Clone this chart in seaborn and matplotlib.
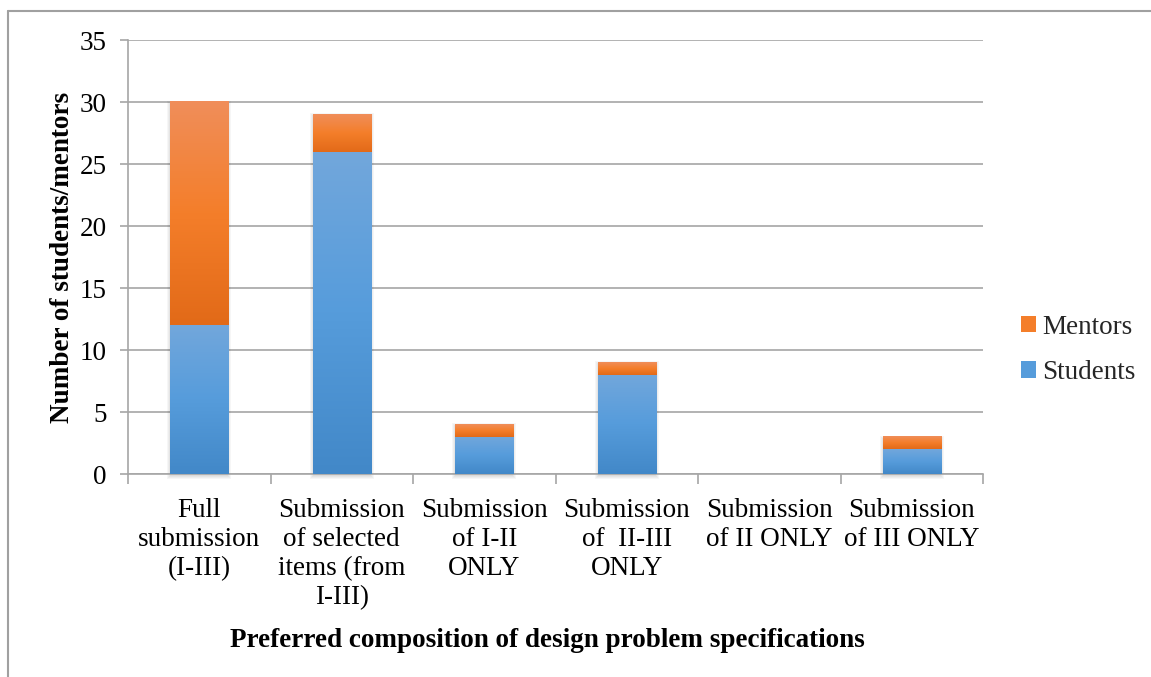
import numpy as np
import pandas as pd
import matplotlib
matplotlib.use("Agg")
import matplotlib.pyplot as plt
import seaborn as sns
from matplotlib.colors import LinearSegmentedColormap
from matplotlib.patches import Rectangle, Patch
from matplotlib.lines import Line2D
from matplotlib.transforms import IdentityTransform

# ---- data ----
categories = [
    "Full\nsubmission\n(I-III)",
    "Submission\nof selected\nitems (from\nI-III)",
    "Submission\nof I-II\nONLY",
    "Submission\nof  II-III\nONLY",
    "Submission\nof II ONLY",
    "Submission\nof III ONLY",
]
students = [12, 26, 3, 8, 0, 2]
mentors = [18, 3, 1, 1, 0, 1]
y_ticks = [0, 5, 10, 15, 20, 25, 30, 35]
series_names = ["Students", "Mentors"]
x_title = "Preferred composition of design problem specifications"
y_title = "Number of students/mentors"

# ---- style ----
BLUE = ["#72a7dc", "#569cdb", "#4288c8"]
ORANGE = ["#f08e5a", "#f47e2a", "#e26a18"]
GRID = "#a6a6a6"
FS = 19.5

sns.set_theme(style="white")
plt.rcParams["font.family"] = ["Liberation Serif", "DejaVu Serif"]

W, H = 1151, 677
fig = plt.figure(figsize=(W / 100, H / 100), dpi=100)
ax = fig.add_axes([128 / W, 1 - 474 / H, 855 / W, 434 / H])

df = pd.DataFrame({"category": categories, "Students": students, "Mentors": mentors})

sns.barplot(data=df, x="category", y="Students", order=categories, color=BLUE[1],
            saturation=1, width=0.41, errorbar=None, ax=ax, zorder=3, linewidth=0)
n_students = len(ax.patches)
sns.barplot(data=df, x="category", y="Mentors", order=categories, color=ORANGE[1],
            saturation=1, width=0.41, errorbar=None, ax=ax, zorder=3, linewidth=0,
            bottom=np.asarray(students, dtype=float))

ax.set_xlim(-0.5, len(categories) - 0.5)
ax.set_ylim(0, 35)
fig.canvas.draw()

# vertical gradient fill for every bar segment
grad = np.linspace(0, 1, 256).reshape(-1, 1)
cmaps = [LinearSegmentedColormap.from_list("blue_grad", BLUE),
         LinearSegmentedColormap.from_list("orange_grad", ORANGE)]
bars = list(ax.patches)
for idx, p in enumerate(bars):
    h = p.get_height()
    if h <= 0:
        continue
    x0, y0, w = p.get_x(), p.get_y(), p.get_width()
    cm = cmaps[0] if idx < n_students else cmaps[1]
    ax.imshow(grad, cmap=cm, extent=[x0, x0 + w, y0, y0 + h], origin="upper",
              aspect="auto", zorder=3.2, interpolation="bilinear")

# soft drop shadow behind each stacked column
for i in range(n_students):
    sp, mp = bars[i], bars[i + n_students]
    top = mp.get_y() + mp.get_height()
    if top <= 0:
        continue
    (dx0, dy0), (dx1, dy1) = ax.transData.transform(
        [(sp.get_x(), 0), (sp.get_x() + sp.get_width(), top)])
    for k in range(1, 5):
        ax.add_patch(Rectangle((dx0 - k + 1, dy0 - k - 1), dx1 - dx0 + 2 * k - 2,
                               dy1 - dy0 + 2 * k - 2,
                               transform=IdentityTransform(), facecolor="black",
                               edgecolor="none", alpha=0.035, zorder=2.5, clip_on=False))

ax.set_xlim(-0.5, len(categories) - 0.5)
ax.set_ylim(0, 35)

# axes, grid and ticks
ax.set_yticks(y_ticks)
ax.yaxis.grid(True, color=GRID, linewidth=1.2, zorder=0)
ax.set_axisbelow(True)
for side in ["top", "right"]:
    ax.spines[side].set_visible(False)
for side in ["left", "bottom"]:
    ax.spines[side].set_color(GRID)
    ax.spines[side].set_linewidth(1.2)

ax.tick_params(axis="y", which="major", length=6, width=1.2, color=GRID,
               direction="out", pad=9.5, labelsize=FS, labelcolor="black", left=True)
ax.set_xticks(np.arange(-0.5, len(categories), 1.0), minor=True)
ax.tick_params(axis="x", which="minor", length=7, width=1.2, color=GRID,
               direction="out", bottom=True)
ax.tick_params(axis="x", which="major", length=0, pad=17, labelsize=FS,
               labelcolor="black")
for lbl in ax.get_xticklabels():
    lbl.set_linespacing(1.22)

ax.set_xlabel(x_title, fontsize=FS, fontweight="bold", color="black")
ax.set_ylabel(y_title, fontsize=FS, fontweight="bold", color="black")
ax.xaxis.set_label_coords(0.49, -0.355)
ax.yaxis.set_label_coords(-0.062, 0.5)

# legend (Mentors listed above Students)
handles = [Patch(facecolor=ORANGE[1], edgecolor="none"),
           Patch(facecolor=BLUE[1], edgecolor="none")]
fig.legend(handles, [series_names[1], series_names[0]], loc="center left",
           bbox_to_anchor=(1010 / W, 1 - 350 / H), frameon=False, fontsize=FS,
           handlelength=0.55, handleheight=0.55, handletextpad=0.25, labelspacing=0.75,
           borderaxespad=0)

# outer chart frame
fig.add_artist(Line2D([8 / W, 8 / W], [-0.01, 1 - 11 / H], transform=fig.transFigure,
                      color="#a0a0a0", linewidth=1.5))
fig.add_artist(Line2D([8 / W, 1.01], [1 - 11 / H, 1 - 11 / H], transform=fig.transFigure,
                      color="#a0a0a0", linewidth=1.5))

fig.savefig("out.png", dpi=100, facecolor="white")
